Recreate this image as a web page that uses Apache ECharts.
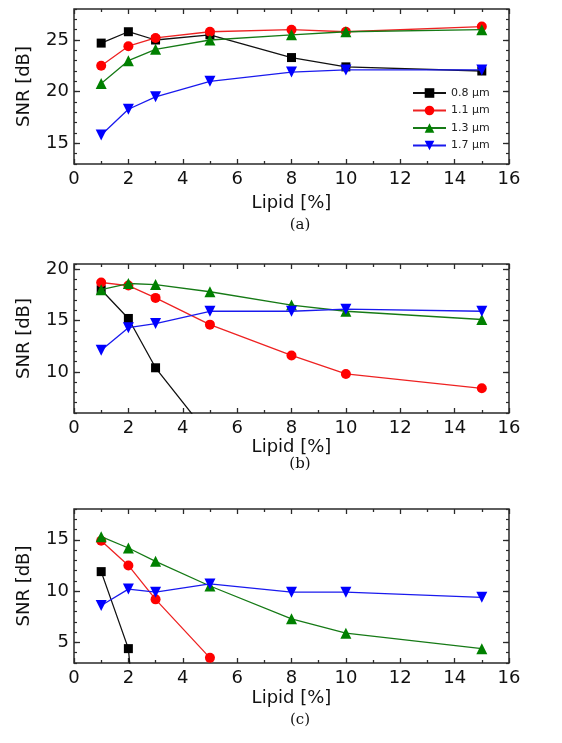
<!DOCTYPE html>
<html>
<head>
<meta charset="utf-8">
<script src="https://cdn.jsdelivr.net/npm/echarts@6/dist/echarts.min.js"></script>
<style>
  html, body { margin: 0; background: #fff; }
  #chart { width: 562px; height: 743px; }
</style>
</head>
<body>
<div id="chart"></div>
<script>
// lipid concentration [%]
const lipid = [1, 2, 3, 5, 8, 10, 15];
const waveNames = ['0.8 µm', '1.1 µm', '1.3 µm', '1.7 µm'];

// (a)
const snrA08 = [24.7, 25.8, 25.0, 25.5, 23.3, 22.4, 22.0];
const snrA11 = [22.5, 24.4, 25.2, 25.8, 26.0, 25.8, 26.3];
const snrA13 = [20.8, 23.0, 24.1, 25.0, 25.5, 25.8, 26.0];
const snrA17 = [15.8, 18.3, 19.5, 21.0, 21.9, 22.1, 22.1];
// (b)
const snrB08 = [18.0, 15.2, 10.4, 3.7, null, null, null];
const snrB11 = [18.7, 18.4, 17.2, 14.6, 11.6, 9.8, 8.4];
const snrB13 = [18.0, 18.6, 18.5, 17.8, 16.5, 15.9, 15.1];
const snrB17 = [12.1, 14.3, 14.7, 15.9, 15.9, 16.1, 15.9];
// (c)
const snrC08 = [11.9, 4.4, -25, null, null, null, null];
const snrC11 = [14.9, 12.5, 9.2, 3.5, null, null, null];
const snrC13 = [15.3, 14.2, 12.9, 10.5, 7.3, 5.9, 4.4];
const snrC17 = [8.6, 10.2, 9.9, 10.7, 9.9, 9.9, 9.4];

const yLabelsA = [15, 20, 25];
const yLabelsB = [10, 15, 20];
const yLabelsC = [5, 10, 15];

const panels = [
  { tag: '(a)', top: 9,   height: 155, min: 13, max: 28,   labels: yLabelsA, series: [snrA08, snrA11, snrA13, snrA17], nameGap: 30, tagY: 225 },
  { tag: '(b)', top: 264, height: 149, min: 6,  max: 20.5, labels: yLabelsB, series: [snrB08, snrB11, snrB13, snrB17], nameGap: 25, tagY: 464 },
  { tag: '(c)', top: 509, height: 154, min: 3,  max: 18,   labels: yLabelsC, series: [snrC08, snrC11, snrC13, snrC17], nameGap: 26, tagY: 720 }
];

const colors = ['#000000', '#ff0000', '#008000', '#0000ff'];
const lineColors = ['#111111', '#ee2222', '#167a16', '#1a1aee'];
const symbols = ['rect', 'circle', 'triangle', 'triangle'];
const symbolSizes = [9, 10, 11, 11];
const rotations = [0, 0, 0, 180];

const ink = '#2a2a2a';
const sans = 'DejaVu Sans';

const grid = [], xAxis = [], yAxis = [], series = [], graphic = [];

panels.forEach((p, i) => {
  grid.push({ left: 74, width: 435, top: p.top, height: p.height, show: true, borderColor: ink, borderWidth: 1.5 });

  ['bottom', 'top'].forEach(pos => {
    xAxis.push({
      type: 'value', gridIndex: i, position: pos, min: 0, max: 16, interval: 2,
      name: pos === 'bottom' ? 'Lipid [%]' : '', nameLocation: 'middle', nameGap: p.nameGap,
      nameTextStyle: { fontFamily: sans, fontSize: 18, color: '#111' },
      axisLine: { show: false },
      axisTick: { show: true, inside: true, length: 5, lineStyle: { color: ink, width: 1.3 } },
      minorTick: { show: true, splitNumber: 2, length: 3, lineStyle: { color: ink, width: 1.3 } },
      axisLabel: { show: pos === 'bottom', fontFamily: sans, fontSize: 18, color: '#111', margin: 6 },
      splitLine: { show: false }
    });
  });

  ['left', 'right'].forEach(pos => {
    // major ticks + labels
    yAxis.push({
      type: 'value', gridIndex: i, position: pos, min: p.min, max: p.max,
      name: pos === 'left' ? 'SNR [dB]' : '', nameLocation: 'middle', nameGap: 41,
      nameTextStyle: { fontFamily: sans, fontSize: 18, color: '#111' },
      axisLine: { show: false },
      axisTick: { show: true, inside: true, length: 6, customValues: p.labels, lineStyle: { color: ink, width: 1.3 } },
      axisLabel: { show: pos === 'left', customValues: p.labels, fontFamily: sans, fontSize: 18, color: '#111', margin: 5 },
      splitLine: { show: false }
    });
    // minor ticks every 1 dB
    yAxis.push({
      type: 'value', gridIndex: i, position: pos, min: p.min, max: p.max, interval: 1,
      axisLine: { show: false },
      axisTick: { show: true, inside: true, length: 3, lineStyle: { color: ink, width: 1.2 } },
      axisLabel: { show: false },
      splitLine: { show: false }
    });
  });

  p.series.forEach((vals, k) => {
    series.push({
      type: 'line', name: waveNames[k], xAxisIndex: i * 2, yAxisIndex: i * 4,
      data: lipid.map((x, j) => [x, vals[j]]),
      symbol: symbols[k], symbolSize: symbolSizes[k], symbolRotate: rotations[k],
      showAllSymbol: true, clip: true,
      itemStyle: { color: colors[k], borderWidth: 0 },
      lineStyle: { color: lineColors[k], width: 1.3 },
      z: 2 + k
    });
  });

  graphic.push({
    type: 'text',
    style: {
      text: p.tag, x: 300, y: p.tagY, textAlign: 'center', textVerticalAlign: 'middle',
      align: 'center', verticalAlign: 'middle',
      fontFamily: 'DejaVu Serif', fontSize: 15, fill: '#111'
    }
  });
});

const chart = echarts.init(document.getElementById('chart'));
chart.setOption({
  animation: false,
  backgroundColor: '#fff',
  grid, xAxis, yAxis, series, graphic,
  legend: {
    data: waveNames, orient: 'vertical', left: 407, top: 82,
    itemWidth: 33, itemHeight: 12, itemGap: 5.5,
    textStyle: { fontFamily: sans, fontSize: 11, color: '#222', lineHeight: 12 }
  }
});
</script>
</body>
</html>
